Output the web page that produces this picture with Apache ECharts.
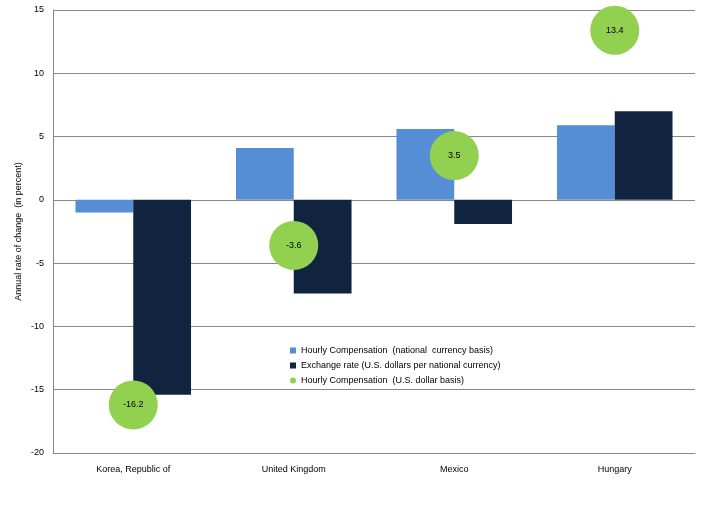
<!DOCTYPE html>
<html>
<head>
<meta charset="utf-8">
<script src="https://cdn.jsdelivr.net/npm/echarts@6/dist/echarts.min.js"></script>
<style>
  html, body { margin: 0; padding: 0; background: #fff; }
  #chart { width: 705px; height: 510px; }
</style>
</head>
<body>
<div id="chart"></div>
<script>
const countries = ["Korea, Republic of", "United Kingdom", "Mexico", "Hungary"];
const hourlyNational = [-1.0, 4.1, 5.6, 5.9];
const exchangeRate = [-15.4, -7.4, -1.9, 7.0];
const hourlyUSD = [-16.2, -3.6, 3.5, 13.4];

const seriesNames = [
  "Hourly Compensation  (national  currency basis)",
  "Exchange rate (U.S. dollars per national currency)",
  "Hourly Compensation  (U.S. dollar basis)",
];

const font = "Liberation Sans";
const chart = echarts.init(document.getElementById("chart"));

chart.setOption({
  animation: false,
  textStyle: { fontFamily: font },
  grid: { left: 53, right: 10, top: 10, bottom: 57 },
  legend: {
    orient: "vertical",
    left: 285,
    top: 341,
    itemWidth: 6,
    itemHeight: 6,
    itemGap: 6,
    textStyle: { fontFamily: font, fontSize: 9, color: "#000" },
    data: [
      { name: seriesNames[0], icon: "rect" },
      { name: seriesNames[1], icon: "rect" },
      { name: seriesNames[2], icon: "circle" },
    ],
  },
  xAxis: {
    type: "category",
    data: countries,
    axisLine: { onZero: false, lineStyle: { color: "#888" } },
    axisTick: { show: false },
    axisLabel: { fontSize: 9, color: "#000", margin: 12 },
  },
  yAxis: {
    type: "value",
    min: -20,
    max: 15,
    interval: 5,
    name: "Annual rate of change  (in percent)",
    nameLocation: "middle",
    nameGap: 30,
    nameMoveOverlap: false,
    nameTextStyle: { fontSize: 9, color: "#000" },
    axisLine: { show: true, lineStyle: { color: "#888" } },
    axisTick: { show: false },
    axisLabel: { fontSize: 9, color: "#000", margin: 9 },
    splitLine: { lineStyle: { color: "#888", width: 1 } },
  },
  series: [
    {
      name: seriesNames[0],
      type: "bar",
      data: hourlyNational,
      itemStyle: { color: "#558ED5" },
      barGap: "0%",
      barCategoryGap: "28%",
    },
    {
      name: seriesNames[1],
      type: "bar",
      data: exchangeRate,
      itemStyle: { color: "#10243F" },
    },
    {
      name: seriesNames[2],
      type: "scatter",
      data: hourlyUSD,
      symbolSize: 49,
      itemStyle: { color: "#92D050", opacity: 1 },
      z: 5,
      label: {
        show: true,
        position: "inside",
        fontSize: 9,
        color: "#000",
        formatter: (p) => p.value.toFixed(1),
      },
    },
  ],
});
</script>
</body>
</html>
